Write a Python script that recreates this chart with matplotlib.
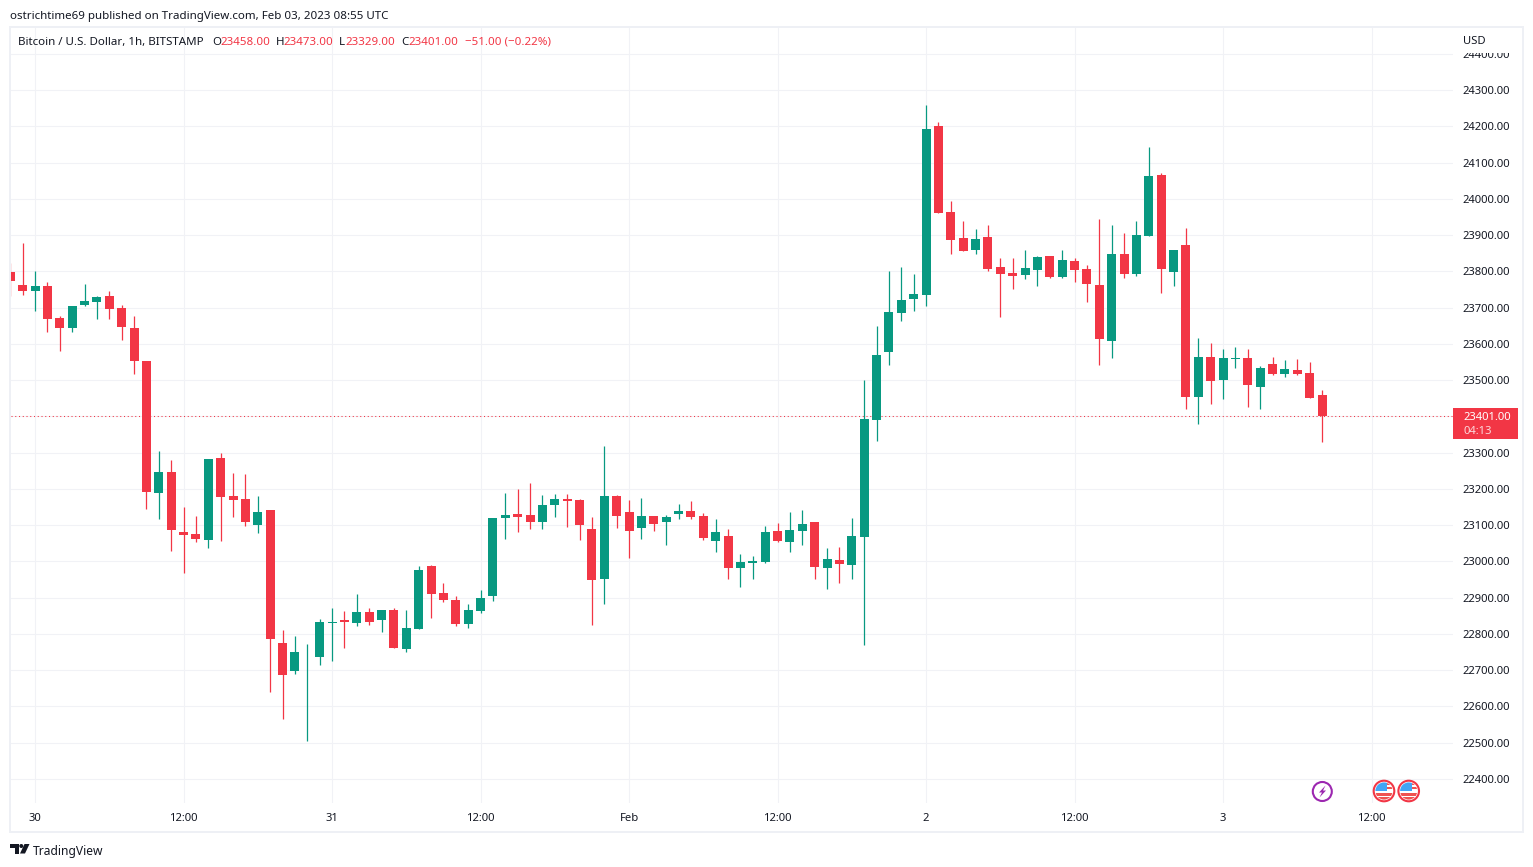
import matplotlib
matplotlib.use("Agg")
import matplotlib.pyplot as plt
from matplotlib.patches import Rectangle, Circle, Polygon

plt.rcParams['font.family'] = ['Noto Sans', 'DejaVu Sans']

opens = [23798,23762,23746,23759,23671,23643.6,23707,23715,23732,23699,23644,23552.5,23188,23246,
         23081,23075,23059,23285,23180,23172,23100,23141.5,22775,22697,22735,22736,22831,22838,22830,22860,
         22838,22866,22758,22813,22987,22913,22893,22827,22863,
         22904,23119,23130.5,23128,23108.4,23155,23172,23169,23089,22951,23180,23136,23092,23125,23108,
         23130.5,23139,23125,23056,23070,22981.5,22995,22998,23084,23053,23084,
         23108.4,22981.5,23003.6,22990,23067,23390,23577,23685,23724,23735,24200.8,23964,23892,23859,23895,
         23812,23795,23790,23804,23842,23784,23828,23806.4,23762,23608,23848,23793,23897.4,24065.7,23798,
         23872.6,23453,23563.6,23500,23558,23561,23481,23544.3,23517,23528,23519.5,23458]
closes = [23773,23746,23759.4,23668,23643.6,23704,23718,23729,23696,23646,23552.5,23191,23246,23086,
          23072.5,23061.5,23282,23177,23169,23108.4,23136,22785.7,22686.4,22750,22737,22832.6,22833,22832.6,22860,22832.6,
          22866,22761,22816,22976,22910,22893,22827,22866,22899,
          23119,23128,23122,23108.4,23155,23172,23166,23100,22948.4,23180,23125,23084,23125,23103,23122,
          23139,23122,23064,23081,22981.5,22998,23001,23081,23056,23086,23103,
          22984,23006,22992.5,23070,23392.5,23569,23688,23721,23737,24192.5,23961,23886.3,23856,23889,23806,
          23792.5,23787,23809,23839,23784,23831,23804,23765,23613,23848,23793,23900,24063,23806.4,23859,
          23453,23563.6,23497.4,23561,23561,23486,23533,23517,23530.5,23517,23450.5,23401]
highs = [23823,23878,23801,23770,23677,23704,23765,23732,23746,23707,23677,23552.5,23304,23279,
         23150,23125,23282,23299,23243.6,23241,23180,23141.5,22810.5,22794,22772,22841,22871,22863,22910,22871,
         22866,22871,22866,22987,22990,22940,22904,22882,22921,
         23119,23188.4,23199.4,23216,23183,23186,23186,23172,23122,23318,23183,23169,23175,23125,23128,
         23158,23166,23133,23117,23089,23020,23015,23097,23106,23136,23141.5,
         23108.4,23037,23039.5,23119.5,23500,23649,23801,23812,23793,24259,24212,23994,23939,23917,23928,
         23837,23837,23859,23842,23842,23859,23837,23817,23944,23928,23906,23939,24143,24071,23859,
         23919.5,23616,23602,23586,23591,23586,23539,23564,23555,23558,23550,23473]
lows = [23732,23735,23690.5,23632.5,23580,23632.5,23704,23668,23668,23610,23517,23144,23117,23028.4,
        22968,23053,23037,23056,23122,23097,23078,22639.5,22565,22689,22504,22714,22725,22761,22821.5,22824,
        22805,22761,22750,22813,22844,22888,22821.5,22816,22857,
        22890.5,23061.5,23081,23089,23089,23122,23095,23059,22824,22882,23092,23009,23061.5,23084,23045,
        23117,23117,23059,23026,22951,22929,22951,22995,23053,23026,23045,
        22951,22923.6,22940,22951,22769,23332,23542,23663,23690.5,23704,23961,23848,23856,23848,23801,
        23674,23751,23779,23759,23781.5,23781.5,23770,23715,23541.5,23561,23781.5,23787,23897,23740,23759,
        23420,23379,23434,23448,23533,23426,23420,23514,23508,23514,23450.5,23329]
first_bar = -2

price_ticks = list(range(22400, 24500, 100))
time_tick_bars = [0, 12, 24, 36, 48, 60, 72, 84, 96, 108]
time_tick_labels = ['30', '12:00', '31', '12:00', 'Feb', '12:00', '2', '12:00', '3', '12:00']

published = 'ostrichtime69 published on TradingView.com, Feb 03, 2023 08:55 UTC'
instrument = 'Bitcoin / U.S. Dollar, 1h, BITSTAMP'
change_text = '\u221251.00 (\u22120.22%)'
countdown = '04:13'

UP, DOWN, INK, GRID = '#089981', '#F23645', '#131722', '#F1F2F6'
W, H = 1533, 867
FS = 8.1
FS_HEAD = 8.3

fig = plt.figure(figsize=(W / 100, H / 100), dpi=100, facecolor='white')
L, R, T, B = 11, 1453, 28, 803
ax = fig.add_axes([L / W, 1 - B / H, (R - L) / W, (B - T) / H], facecolor='white')

bar_px, bar0_px = 12.375, 35.1
ax.set_xlim((L - bar0_px) / bar_px, (R - bar0_px) / bar_px)
price_px, ref_price, ref_px = 0.3625, 23400, 416.3
ax.set_ylim(ref_price - (B - ref_px) / price_px, ref_price + (ref_px - T) / price_px)

ax.set_axisbelow(True)
ax.grid(True, color=GRID, lw=0.75)
for s in ax.spines.values():
    s.set_visible(False)
ax.yaxis.tick_right()
ax.set_yticks(price_ticks, [f'{p:.2f}' for p in price_ticks])
ax.set_xticks(time_tick_bars, time_tick_labels)
ax.tick_params(axis='both', length=0, labelcolor=INK, labelsize=FS)
ax.tick_params(axis='y', pad=6.8)
ax.tick_params(axis='x', pad=7)
for lab, txt in zip(ax.get_xticklabels(), time_tick_labels):
    if txt == 'Feb':
        lab.set_fontweight('bold')

ax.axhline(closes[-1], color=DOWN, lw=0.75, ls=(0, (1, 2.6)), zorder=1.5)

xs = [first_bar + i for i in range(len(opens))]
cols = [UP if c >= o else DOWN for o, c in zip(opens, closes)]
ax.vlines(xs, lows, highs, colors=cols, lw=0.9, zorder=2)
ax.bar(xs, [abs(c - o) for o, c in zip(opens, closes)],
       bottom=[min(o, c) for o, c in zip(opens, closes)],
       width=9 / bar_px, color=cols, lw=0, zorder=3)

# overlay in pixel coordinates
ov = fig.add_axes([0, 0, 1, 1], facecolor='none')
ov.set_xlim(0, W)
ov.set_ylim(H, 0)
ov.axis('off')

BORDER = '#EEF0F5'
ov.add_patch(Rectangle((1455, 28), 67, 24.5, fc='white', ec='none', zorder=1))
for rect in [(9, 26, 1515, 2), (9, 831, 1515, 2), (9, 26, 2, 807), (1522, 26, 2, 807)]:
    ov.add_patch(Rectangle(rect[:2], rect[2], rect[3], fc=BORDER, ec='none', zorder=2))

def label(x, y, s, color=INK, **kw):
    kw.setdefault('fontsize', FS)
    ov.text(x, y, s, color=color, va='center', ha=kw.pop('ha', 'left'), zorder=5, **kw)

label(10, 16.5, published, fontsize=FS_HEAD)
label(18, 42.5, instrument, fontsize=FS_HEAD)
num = lambda v: f'{v:.2f}'
for (x0, letter, x1, val) in [(212, 'O', 220, opens[-1]), (276, 'H', 283, highs[-1]),
                              (339, 'L', 345, lows[-1]), (401, 'C', 408, closes[-1])]:
    label(x0, 42.5, letter, fontsize=FS_HEAD)
    label(x1, 42.5, num(val), color=DOWN, fontsize=FS_HEAD)
label(465, 42.5, change_text, color=DOWN, fontsize=FS_HEAD)
label(1463, 41.5, 'USD')

# last price tag
ov.add_patch(Rectangle((1453, 408), 65, 31, fc=DOWN, ec='none', zorder=3))
label(1463, 418, num(closes[-1]), color='white')
label(1463, 432, countdown, color='#FCD7DA')

# event icons
purple = '#9C27B0'
ov.add_patch(Circle((1322.3, 791.5), 9.5, fc='white', ec=purple, lw=1.5, zorder=4))
ov.add_patch(Polygon([(1325.5, 785.5), (1319, 792.5), (1322, 792.5), (1319.5, 797.5),
                      (1326, 790.5), (1323, 790.5)], fc=purple, ec='none', zorder=5))
for cx in (1384, 1408.7):
    ring = Circle((cx, 791), 10.3, fc='white', ec=DOWN, lw=1.5, zorder=4)
    ov.add_patch(ring)
    clip = Circle((cx, 791), 8.6, transform=ov.transData)
    for (x, y, w, h, c) in [(cx + 3, 783, 7, 2, '#EF5350'), (cx + 3, 787, 7, 2, '#EF5350'),
                            (cx - 9, 792.5, 18, 3, '#EF5350'), (cx - 9, 797, 18, 3, '#EF5350'),
                            (cx - 9, 782, 12, 9, '#42A5F5')]:
        p = Rectangle((x, y), w, h, fc=c, ec='none', zorder=5)
        ov.add_patch(p)
        p.set_clip_path(clip)

# logo
ov.add_patch(Polygon([(10, 844), (19, 844), (19, 853.5), (15, 853.5), (15, 848), (10, 848)],
                     fc=INK, ec='none'))
ov.add_patch(Circle((21.3, 846), 2, fc=INK, ec='none'))
ov.add_patch(Polygon([(24.5, 844), (29.5, 844), (25, 853.5), (20, 853.5)], fc=INK, ec='none'))
label(33, 851, 'TradingView', fontsize=8.7)

fig.savefig('out.png', dpi=100, facecolor='white')
